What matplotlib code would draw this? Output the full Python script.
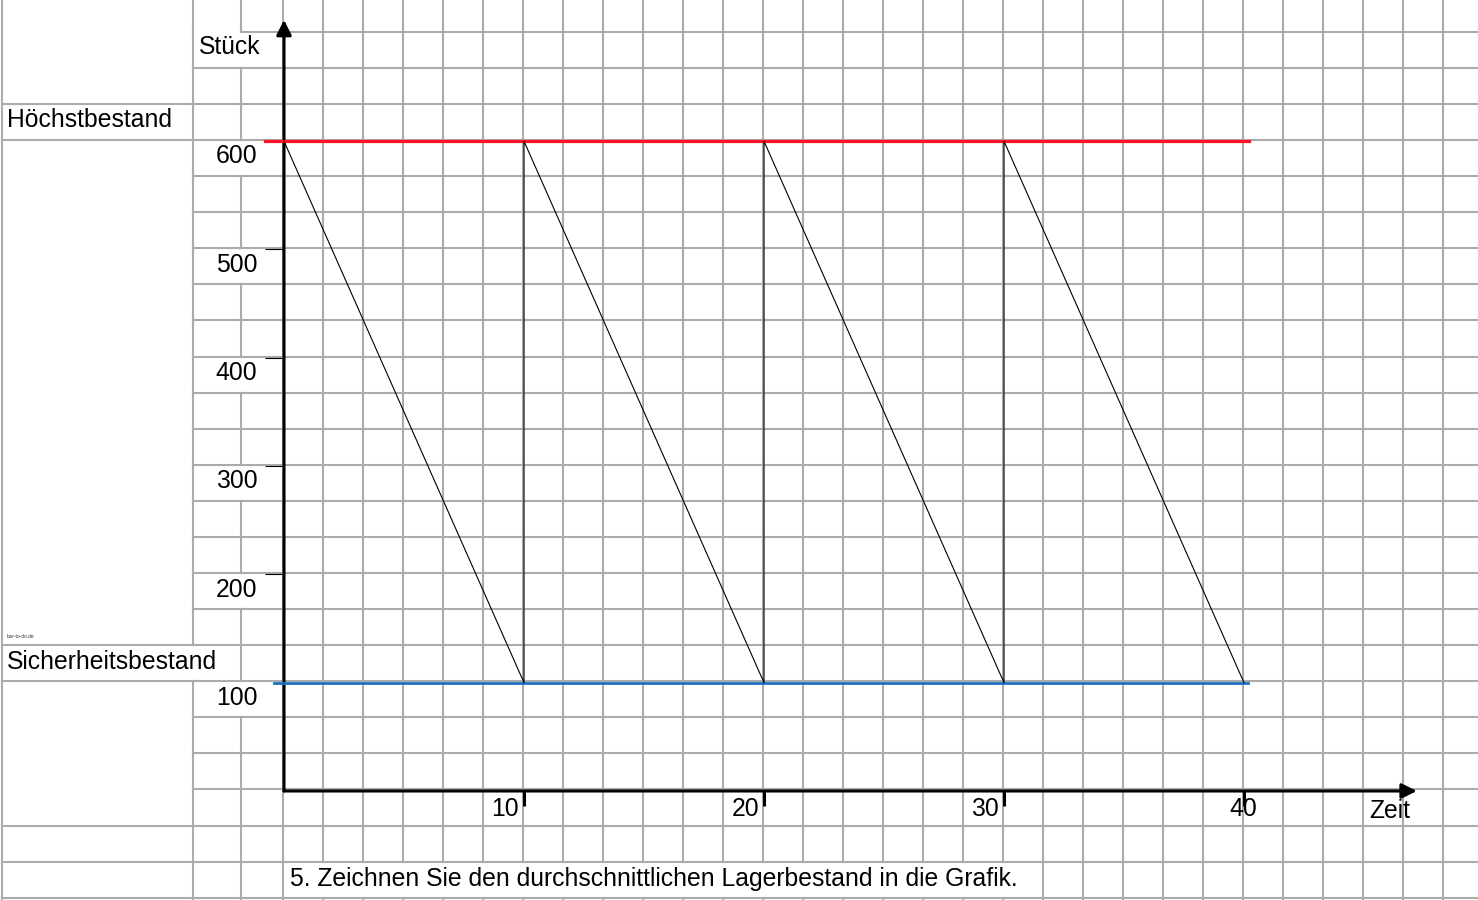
import matplotlib
matplotlib.use('Agg')
import matplotlib.pyplot as plt
from matplotlib.transforms import offset_copy

plt.rcParams['font.family'] = ['Liberation Sans', 'DejaVu Sans']

# Lagerbestand (Saegezahn)
zeit = [0, 10, 10, 20, 20, 30, 30, 40]
bestand = [600, 100, 600, 100, 600, 100, 600, 100]

hoechstbestand = 600
sicherheitsbestand = 100

y_labels = [600, 500, 400, 300, 200, 100]
y_tick_marks = [500, 400, 300, 200]
x_labels = [10, 20, 30, 40]
x_label_ha = ['right', 'right', 'right', 'center']

# Tabellenraster (Pixel)
col_x = [2, 192.7, 240.7, 283.3] + [283.3 + 40 * k for k in range(1, 30)]
row_y = [31.8 + 36.08 * k for k in range(25)]

W, H = 1478, 900
fig = plt.figure(figsize=(W / 100, H / 100), dpi=100)

# --- Hintergrund: Tabellenblatt ---
bg = fig.add_axes([0, 0, 1, 1])
bg.set_xlim(0, W)
bg.set_ylim(H, 0)
bg.axis('off')
grid_kw = dict(color='#ababab', lw=1.5, zorder=0)

colA_rows = {2, 3, 17, 18, 22, 23, 24}
for k, y in enumerate(row_y):
    for c in range(len(col_x) - 1):
        if c == 0 and k not in colA_rows:
            continue
        if c == 1 and k == 0:
            continue
        bg.plot([col_x[c], col_x[c + 1]], [y, y], **grid_kw)
    bg.plot([col_x[-1], W], [y, y], **grid_kw)

row_edges = [0] + row_y + [H]
skip_b = {1, 4, 7, 10, 13, 16, 19}   # Segment-Index (zwischen row_edges[i] und [i+1])
for c, x in enumerate(col_x):
    for i in range(len(row_edges) - 1):
        if c == 1 and i == 18:
            continue
        if c == 2 and i in skip_b:
            continue
        if 4 <= c <= 21 and i == 24:
            continue
        bg.plot([x, x], [row_edges[i], row_edges[i + 1]], **grid_kw)

fs = 17.8
bg.text(199, 54.3, 'Stück', fontsize=fs, va='baseline')
bg.text(7.3, 126.7, 'Höchstbestand', fontsize=fs, va='baseline')
bg.text(7.3, 668.7, 'Sicherheitsbestand', fontsize=fs, va='baseline')
bg.text(7, 637.5, 'bwr-to-do.de', fontsize=3.5, va='baseline', color='#333333')
bg.text(1369, 818.5, 'Zeit', fontsize=fs, va='baseline')
bg.text(289.5, 886, '5. Zeichnen Sie den durchschnittlichen Lagerbestand in die Grafik.',
        fontsize=fs, va='baseline')

# --- Diagramm ---
ox, oy = 284.0, 791.0
sx, sy = 24.0, 541.5 / 500
xmax, ymax = 47.2, 712
ax = fig.add_axes([ox / W, (H - oy) / H, xmax * sx / W, ymax * sy / H], zorder=2)
ax.set_xlim(0, xmax)
ax.set_ylim(0, ymax)
ax.patch.set_alpha(0)
for s in ax.spines.values():
    s.set_visible(False)

ax.set_xticks(x_labels)
ax.set_yticks(y_tick_marks)
ax.set_xticklabels([])
ax.set_yticklabels([])
ax.tick_params(axis='x', direction='out', length=11, width=2.2, color='black')
ax.tick_params(axis='y', direction='out', length=14, width=0.8, color='black')

arrow_kw = dict(arrowstyle='-|>,head_length=0.6,head_width=0.3', lw=2.2, color='black',
                mutation_scale=15, shrinkA=0, shrinkB=0)
ax.annotate('', xy=(0, ymax), xytext=(0, 0), arrowprops=arrow_kw, annotation_clip=False)
ax.annotate('', xy=(xmax, 0), xytext=(0, 0), arrowprops=arrow_kw, annotation_clip=False)

ax.plot([-0.8, 40.2], [hoechstbestand, hoechstbestand], color='#fe1124', lw=2.3,
        clip_on=False, zorder=3)
ax.plot([-0.4, 40.15], [sicherheitsbestand, sicherheitsbestand], color='#1c72c0', lw=2.0,
        clip_on=False, zorder=3)
ax.plot(zeit, bestand, color='black', lw=0.8, clip_on=False, zorder=4)

ylab_tr = offset_copy(ax.transData, fig=fig, x=-26.5, y=-22.3, units='dots')
for v in y_labels:
    ax.text(0, v, str(v), transform=ylab_tr, ha='right', va='baseline', fontsize=fs)

for v, ha in zip(x_labels, x_label_ha):
    dx = -5 if ha == 'right' else -1
    tr = offset_copy(ax.transData, fig=fig, x=dx, y=-24.5, units='dots')
    ax.text(v, 0, str(v), transform=tr, ha=ha, va='baseline', fontsize=fs)

fig.savefig('out.png', dpi=100)
